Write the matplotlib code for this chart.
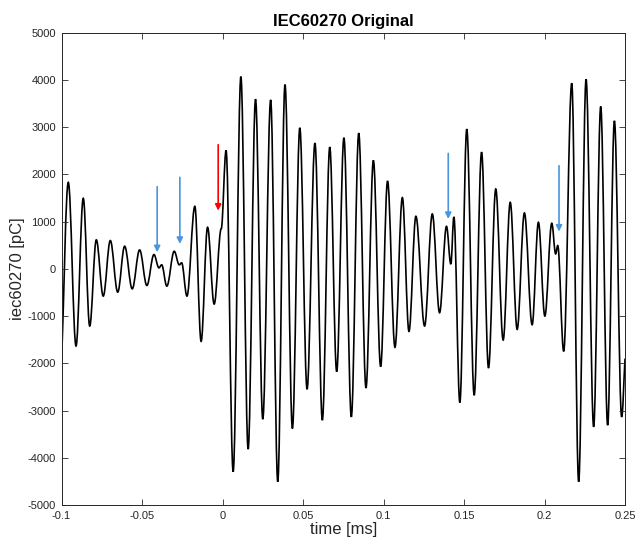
import matplotlib
matplotlib.use("Agg")
import matplotlib.pyplot as plt
from matplotlib.path import Path
from matplotlib.patches import PathPatch

plt.rcParams["font.family"] = ["Liberation Sans Narrow", "Liberation Sans", "DejaVu Sans"]
plt.rcParams["axes.unicode_minus"] = False

# extrema of the waveform (time in ms, charge in pC)
zeit = [
    -0.1000, -0.0958, -0.0910, -0.0865, -0.0825, -0.0784, -0.0741, -0.0697,
    -0.0651, -0.0608, -0.0561, -0.0515, -0.0470, -0.0426, -0.0395, -0.0378,
    -0.0346, -0.0300, -0.0269, -0.0254, -0.0221, -0.0172, -0.0133, -0.0093,
    -0.0052, -0.0008, 0.0022, 0.0066, 0.0114, 0.0159, 0.0205, 0.0250,
    0.0299, 0.0343, 0.0388, 0.0434, 0.0480, 0.0525, 0.0574, 0.0620,
    0.0666, 0.0709, 0.0754, 0.0800, 0.0846, 0.0891, 0.0937, 0.0982,
    0.1025, 0.1071, 0.1117, 0.1158, 0.1201, 0.1255, 0.1303, 0.1348,
    0.1391, 0.1418, 0.1437, 0.1474, 0.1517, 0.1563, 0.1609, 0.1652,
    0.1697, 0.1743, 0.1787, 0.1830, 0.1875, 0.1923, 0.1962, 0.2002,
    0.2045, 0.2069, 0.2082, 0.2119, 0.2169, 0.2212, 0.2258, 0.2305,
    0.2349, 0.2392, 0.2434, 0.2479, 0.2500,
]
ladung = [
    -2007, 1831, -1634, 1493, -1211, 613, -577, 599,
    -493, 479, -423, 401, -352, 302, 21, 85,
    -366, 372, 85, 127, -577, 1324, -1535, 880,
    -746, 850, 2507, -4296, 4070, -3817, 3592, -3183,
    3577, -4507, 3901, -3380, 2986, -2549, 2662, -3204,
    2577, -2176, 2775, -3134, 2873, -2521, 2296, -2070,
    1859, -1662, 1507, -1324, 1113, -1211, 1162, -930,
    900, 100, 1100, -2831, 2958, -2676, 2470, -2099,
    1690, -1507, 1408, -1282, 1183, -1183, 986, -1000,
    965, 317, 493, -1746, 3930, -4507, 4014, -3345,
    3437, -3310, 3134, -3134, -1900,
]

# arrows marking the pulses
pfeil_zeit = [-0.0406, -0.0265, -0.0027, 0.1402, 0.2090]
pfeil_oben = [1739, 1937, 2627, 2444, 2183]
pfeil_spitze = [352, 528, 1232, 1056, 789]
pfeil_farbe = ["#4a95dc", "#4a95dc", "#ff0000", "#4a95dc", "#4a95dc"]

x_ticks = [-0.1, -0.05, 0, 0.05, 0.1, 0.15, 0.2, 0.25]
x_tick_labels = ["-0.1", "-0.05", "0", "0.05", "0.1", "0.15", "0.2", "0.25"]
y_ticks = [-5000, -4000, -3000, -2000, -1000, 0, 1000, 2000, 3000, 4000, 5000]


def kurve(t, v, k=0.364):
    # smooth curve through the extrema, flat tangent at every extremum
    verts = [(t[0], v[0])]
    codes = [Path.MOVETO]
    n = len(t)
    for i in range(n - 1):
        dt = t[i + 1] - t[i]
        if i == 0:
            c1 = (t[i] + k * dt, v[i] + k * (v[i + 1] - v[i]))
        else:
            c1 = (t[i] + k * dt, v[i])
        if i == n - 2:
            c2 = (t[i + 1] - k * dt, v[i + 1] - k * (v[i + 1] - v[i]))
        else:
            c2 = (t[i + 1] - k * dt, v[i + 1])
        verts += [c1, c2, (t[i + 1], v[i + 1])]
        codes += [Path.CURVE4] * 3
    return Path(verts, codes)


fig = plt.figure(figsize=(6.35, 5.43), dpi=100)
ax = fig.add_axes([0.0969, 0.070, 0.8874, 0.8698])

ax.add_patch(PathPatch(kurve(zeit, ladung), facecolor="none", edgecolor="black", lw=1.2))

for t, oben, spitze, farbe in zip(pfeil_zeit, pfeil_oben, pfeil_spitze, pfeil_farbe):
    ax.annotate(
        "",
        xy=(t, spitze),
        xytext=(t, oben),
        arrowprops=dict(arrowstyle="-|>", color=farbe, lw=1.2, mutation_scale=9,
                        shrinkA=0, shrinkB=0),
    )

ax.set_xlim(-0.1, 0.25)
ax.set_ylim(-5000, 5000)
ax.set_xticks(x_ticks)
ax.set_xticklabels(x_tick_labels)
ax.set_yticks(y_ticks)

grau = "#262626"
for s in ax.spines.values():
    s.set_color(grau)
    s.set_linewidth(0.7)
ax.tick_params(direction="in", top=True, right=True, length=4, width=0.6,
               colors=grau, labelsize=8, pad=4)

ax.set_xlabel("time [ms]", fontsize=12, color=grau, labelpad=1)
ax.set_ylabel("iec60270 [pC]", fontsize=12, color=grau, labelpad=2)
ax.set_title("IEC60270 Original", fontsize=12, fontweight="bold", pad=5)

fig.savefig("out.png", dpi=100)
